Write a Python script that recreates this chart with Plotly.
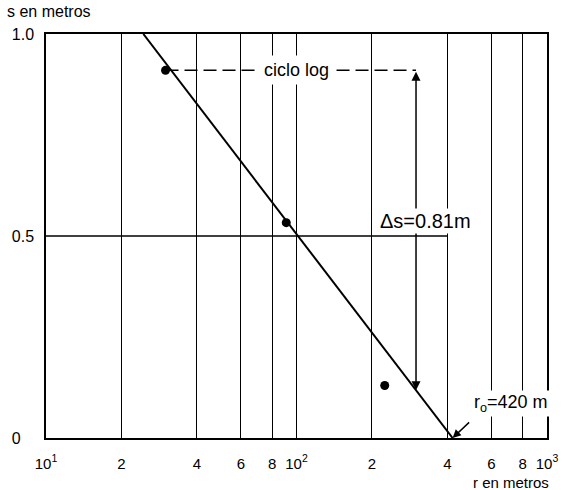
import numpy as np
import plotly.graph_objects as go

# Drawdown readings at the observation wells
r_obs = [30, 91, 225]          # distance r (m)
s_obs = [0.91, 0.533, 0.13]    # drawdown s (m)

# Straight-line fit on the semi-log plot
delta_s = 0.81                 # drawdown per log cycle (m)
r0 = 420                       # intercept at s = 0 (m)

# Axis ticks
x_tickvals = [10, 20, 40, 60, 80, 100, 200, 400, 600, 800, 1000]
x_ticktext = ["10<sup>1</sup>", "2", "4", "6", "8", "10<sup>2</sup>",
              "2", "4", "6", "8", "10<sup>3</sup>"]
y_tickvals = [0, 0.5, 1.0]
y_ticktext = ["0&nbsp;&nbsp;&nbsp;", "0.5", "1.0"]

# One log cycle used to read delta_s
cycle_start, cycle_end = 30, 300

FONT = "Liberation Sans, Arial, sans-serif"


def s_fit(r):
    return delta_s * np.log10(r0 / np.asarray(r, dtype=float))


r_line = np.array([r0 * 10 ** (-1.0 / delta_s), r0])
s_line = s_fit(r_line)
s_cycle = s_obs[0]
s_arrow_low = float(s_fit(cycle_end))

fig = go.Figure()

# Fitted straight line
fig.add_trace(go.Scatter(x=r_line, y=s_line, mode="lines",
                         line=dict(color="black", width=2),
                         hoverinfo="skip", showlegend=False))

# Horizontal dashed line marking one log cycle
fig.add_trace(go.Scatter(x=[cycle_start, cycle_end], y=[s_cycle, s_cycle],
                         mode="lines",
                         line=dict(color="black", width=1.5, dash="13px,6px"),
                         hoverinfo="skip", showlegend=False))

# Measured points
fig.add_trace(go.Scatter(x=r_obs, y=s_obs, mode="markers",
                         marker=dict(color="black", size=9),
                         showlegend=False))

# Horizontal reference line at s = 0.5
fig.add_shape(type="line", xref="x", yref="y",
              x0=10, x1=400, y0=0.5, y1=0.5,
              line=dict(color="black", width=1.3), layer="below")

lx = np.log10
annotations = [
    # double-headed arrow spanning delta_s
    dict(x=lx(cycle_end), y=s_arrow_low, ax=lx(cycle_end), ay=s_cycle,
         xref="x", yref="y", axref="x", ayref="y", text="",
         showarrow=True, arrowside="end+start", arrowhead=2, arrowsize=1.2,
         arrowwidth=1.5, arrowcolor="black"),
    dict(x=lx(100), y=s_cycle, xref="x", yref="y", text="ciclo log",
         showarrow=False, bgcolor="white", borderpad=4,
         font=dict(family=FONT, size=18, color="black")),
    dict(x=lx(327), y=0.536, xref="x", yref="y", text="Δs=0.81m",
         showarrow=False, bgcolor="white", borderpad=1,
         font=dict(family=FONT, size=20, color="black")),
    dict(x=lx(716), y=0.085, xref="x", yref="y",
         text="r<sub>o</sub>=420 m", showarrow=False, bgcolor="white",
         borderpad=1, font=dict(family=FONT, size=18, color="black")),
    dict(x=lx(r0), y=0, xref="x", yref="y", text="", showarrow=True,
         ax=18, ay=-17, arrowhead=2, arrowsize=1.1, arrowwidth=1.5,
         arrowcolor="black"),
    dict(x=0, y=1, xref="paper", yref="paper", xanchor="left",
         yanchor="bottom", xshift=-41, yshift=12, text="s en metros",
         showarrow=False, font=dict(family=FONT, size=16, color="black")),
    dict(x=1, y=0, xref="paper", yref="paper", xanchor="right",
         yanchor="top", xshift=4, yshift=-34, text="r en metros",
         showarrow=False, font=dict(family=FONT, size=15, color="black")),
]

fig.update_layout(
    width=570, height=490,
    margin=dict(l=41, r=18, t=34, b=52),
    paper_bgcolor="white", plot_bgcolor="white",
    font=dict(family=FONT, size=16, color="black"),
    annotations=annotations,
    xaxis=dict(type="log", range=[1, 3],
               tickvals=x_tickvals, ticktext=x_ticktext,
               tickfont=dict(size=15),
               showgrid=True, gridcolor="black", gridwidth=1.3,
               showline=True, linecolor="black", linewidth=1.5, mirror=True,
               ticks="", ticklabelstandoff=11, zeroline=False),
    yaxis=dict(range=[0, 1], tickvals=y_tickvals, ticktext=y_ticktext,
               showgrid=False, showline=True, linecolor="black",
               linewidth=1.5, mirror=True, ticks="", ticklabelstandoff=7,
               zeroline=False),
)

fig.write_html("out.html")
